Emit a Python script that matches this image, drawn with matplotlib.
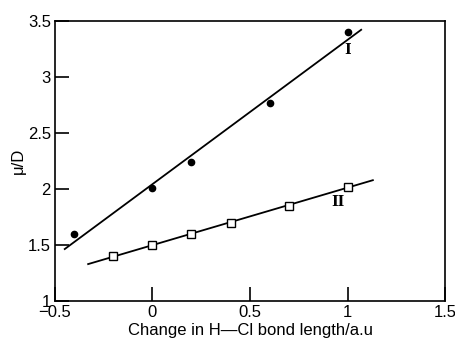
import numpy as np
import matplotlib
matplotlib.use("Agg")
import matplotlib.pyplot as plt

plt.rcParams['font.family'] = ['Liberation Sans', 'DejaVu Sans']

# Series I (filled circles)
x_I = [-0.4, 0.0, 0.2, 0.6, 1.0]
y_I = [1.60, 2.01, 2.24, 2.77, 3.40]
line_I_x = [-0.45, 1.07]

# Series II (open squares)
x_II = [-0.2, 0.0, 0.2, 0.4, 0.7, 1.0]
y_II = [1.40, 1.50, 1.60, 1.70, 1.85, 2.02]
line_II_x = [-0.33, 1.13]

xticks = [-0.5, 0, 0.5, 1, 1.5]
xtick_labels = ['\u22120.5', '0', '0.5', '1', '1.5']
yticks = [1, 1.5, 2, 2.5, 3, 3.5]
ytick_labels = ['1', '1.5', '2', '2.5', '3', '3.5']

fig = plt.figure(figsize=(4.56, 3.38), dpi=100)
ax = fig.add_axes([0.1206, 0.1095, 0.8553, 0.8284])

# fitted lines
cI = np.polyfit(x_I, y_I, 1)
cII = np.polyfit(x_II, y_II, 1)
lx = np.array(line_I_x)
ax.plot(lx, np.polyval(cI, lx), color='black', lw=1.3, zorder=2)
lx2 = np.array(line_II_x)
ax.plot(lx2, np.polyval(cII, lx2), color='black', lw=1.3, zorder=2)

ax.plot(x_I, y_I, 'o', color='black', ms=4.5, zorder=3)
ax.plot(x_II, y_II, 's', mfc='white', mec='black', mew=1.0, ms=6, zorder=3)

ax.text(1.0, 3.24, 'I', fontfamily='DejaVu Serif', fontweight='bold', fontsize=10,
        ha='center', va='center')
ax.text(0.95, 1.88, 'II', fontfamily='DejaVu Serif', fontweight='bold', fontsize=10,
        ha='center', va='center')

ax.set_xlim(-0.5, 1.5)
ax.set_ylim(1, 3.5)
ax.set_xticks(xticks)
ax.set_xticklabels(xtick_labels)
ax.set_yticks(yticks)
ax.set_yticklabels(ytick_labels)
ax.tick_params(direction='in', length=10, width=1.2, labelsize=12, pad=3,
               top=False, right=False)
for s in ax.spines.values():
    s.set_linewidth(1.2)

ax.set_xlabel('Change in H\u2014Cl bond length/a.u', fontsize=12, labelpad=2)
ax.set_ylabel('\u03bc/D', fontsize=12, labelpad=1)

fig.savefig('out.png', dpi=100)
